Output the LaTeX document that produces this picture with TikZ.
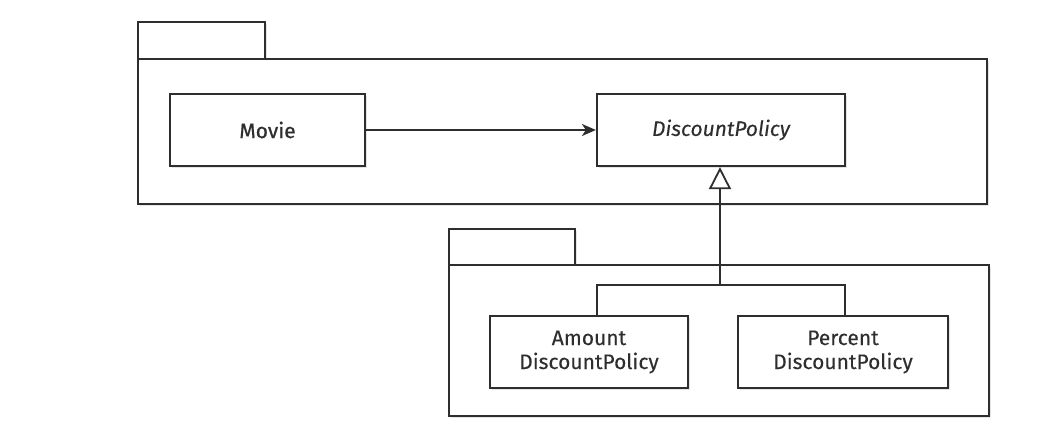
\documentclass[tikz,border=0pt]{standalone}
\usepackage{fontspec}
\setmainfont{Fira Sans}[FakeBold=0.15]
\newfontfamily\boldish{Fira Sans}[FakeBold=0.6]
\usetikzlibrary{arrows.meta,shadows}
\definecolor{ln}{HTML}{2E2E2E}
\begin{document}
\begin{tikzpicture}[x=1pt,y=-1pt,
  every node/.style={font=\fontsize{21}{24}\selectfont, text=ln},
  pkg/.style={draw=ln, line width=2.2pt, fill=white, drop shadow={shadow xshift=2pt, shadow yshift=-2pt, opacity=0.2}},
  cls/.style={draw=ln, line width=2.2pt, fill=white, drop shadow={shadow xshift=2pt, shadow yshift=-2pt, opacity=0.2}, align=center, inner sep=0pt},
  conn/.style={draw=ln, line width=1.8pt}]
\useasboundingbox (0,0) rectangle (1054,428);
% package 1
\path[pkg] (138,22) rectangle (265,59);
\path[pkg] (138,59) rectangle (987,204);
% package 2
\path[pkg] (449,229) rectangle (575,265);
\path[pkg] (449,265) rectangle (989,416);
% classes
\node[cls, minimum width=195pt, minimum height=72pt] (movie) at (267.5,130) {\boldish Movie};
\node[cls, minimum width=248pt, minimum height=72pt] (dp) at (721,130) {\itshape DiscountPolicy};
\node[cls, minimum width=198pt, minimum height=72pt] (adp) at (589,352) {Amount\\DiscountPolicy};
\node[cls, minimum width=210pt, minimum height=72pt] (pdp) at (843,352) {Percent\\DiscountPolicy};
\coordinate (j) at (720,285);
\draw[conn, -{Stealth[length=14pt,width=12pt,inset=4pt]}] (movie.east) -- (dp.west);
\draw[conn] (adp.north -| 597,0) -- (597,285) -- (845,285) -- (pdp.north -| 845,0);
\draw[conn, -{Triangle[open,length=22pt,width=22pt,line width=1.8pt]}] (j) -- (dp.south -| j);
\end{tikzpicture}
\end{document}
